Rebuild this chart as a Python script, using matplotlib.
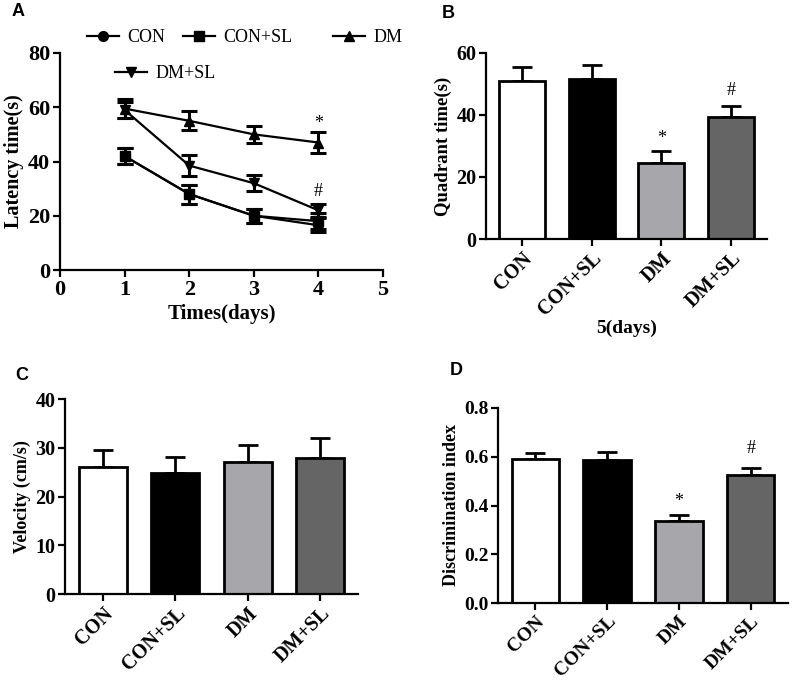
import matplotlib
matplotlib.use('Agg')
import matplotlib.pyplot as plt
from matplotlib.lines import Line2D

plt.rcParams['font.family'] = ['Liberation Serif', 'DejaVu Serif']
plt.rcParams['font.weight'] = 'bold'
plt.rcParams['axes.linewidth'] = 1.6

# ---- data ----
days = [1, 2, 3, 4]
con_lat = [42, 28, 20, 16.5]
con_lat_err = [3, 3.5, 2.5, 2.5]
consl_lat = [42, 28, 20, 18]
consl_lat_err = [3, 3.5, 2.5, 3]
dm_lat = [59.5, 55, 50, 47]
dm_lat_err = [3.5, 3.5, 3, 4]
dmsl_lat = [59, 38.5, 32, 22]
dmsl_lat_err = [3, 4, 3, 2.5]

groups = ['CON', 'CON+SL', 'DM', 'DM+SL']
bar_colors = ['white', 'black', '#a7a7ab', '#656565']

quad_time = [51, 51.5, 24.5, 39.5]
quad_err = [4.5, 4.5, 4, 3.5]
quad_marks = ['', '', '*', '#']

velocity = [26, 24.8, 27, 28]
velocity_err = [3.5, 3.4, 3.6, 4]

disc_index = [0.59, 0.585, 0.335, 0.525]
disc_err = [0.025, 0.035, 0.025, 0.03]
disc_marks = ['', '', '*', '#']

W, H = 797, 690
fig = plt.figure(figsize=(W / 100, H / 100), dpi=100)


def px_axes(left, top, right, bottom):
    return fig.add_axes([left / W, 1 - bottom / H, (right - left) / W, (bottom - top) / H])


def style(ax, fs):
    ax.spines['top'].set_visible(False)
    ax.spines['right'].set_visible(False)
    ax.tick_params(width=1.6, length=5, labelsize=fs, pad=2)
    for t in ax.get_yticklabels():
        t.set_fontweight('bold')


# ---- A ----
axA = px_axes(60, 53, 383, 270)
series = [(con_lat, con_lat_err, 'o', 'CON'),
          (consl_lat, consl_lat_err, 's', 'CON+SL'),
          (dm_lat, dm_lat_err, '^', 'DM'),
          (dmsl_lat, dmsl_lat_err, 'v', 'DM+SL')]
for vals, err, mk, name in series:
    axA.errorbar(days, vals, yerr=err, color='black', marker=mk, markersize=7,
                 lw=1.6, elinewidth=2.2, capsize=6, capthick=2.2, label=name)
axA.set_xlim(0, 5)
axA.set_ylim(0, 80)
axA.set_xticks(range(0, 6))
axA.set_yticks(range(0, 81, 20))
style(axA, 16)
for t in axA.get_xticklabels():
    t.set_fontweight('bold')
axA.set_xlabel('Times(days)', fontsize=15, fontweight='bold', labelpad=3)
axA.set_ylabel('Latency time(s)', fontsize=14.5, fontweight='bold', labelpad=3)
axA.text(4, 54, '*', ha='center', va='center', fontsize=13, fontweight='normal')
axA.text(4, 29, '#', ha='center', va='center', fontsize=13, fontweight='normal')

# legend entries placed like the original
leg_pos = [(87, 38), (183, 38), (333, 38), (115, 74)]
for (vals, err, mk, name), (lx, ly) in zip(series, leg_pos):
    h = Line2D([], [], color='black', marker=mk, markersize=7, lw=1.6)
    lg = fig.legend([h], [name], loc='center left', bbox_to_anchor=(lx / W, 1 - ly / H),
                    frameon=False, handlelength=1.75, handletextpad=0.5, borderpad=0,
                    borderaxespad=0,
                    prop={'family': 'Liberation Serif', 'weight': 'normal', 'size': 13})


def bar_panel(ax, vals, err, ylim, yticks, fs, marks=None, mark_y=None):
    x = list(range(len(groups)))
    ax.bar(x, vals, width=0.66, color=bar_colors, edgecolor='black', linewidth=2, zorder=2)
    ax.errorbar(x, vals, yerr=[[0] * len(err), err], fmt='none', ecolor='black',
                elinewidth=2, capsize=7, capthick=2, zorder=1)
    ax.set_xlim(-0.52, len(groups) - 0.48)
    ax.set_ylim(*ylim)
    ax.set_yticks(yticks)
    ax.set_xticks(x)
    ax.set_xticklabels(groups, rotation=45, ha='right', rotation_mode='anchor',
                       fontsize=13, fontweight='bold')
    style(ax, fs)
    if marks:
        for i, m in enumerate(marks):
            if m:
                ax.text(i, mark_y[i], m, ha='center', va='center', fontsize=13,
                        fontweight='normal')


# ---- B ----
axB = px_axes(486, 53, 767, 239)
bar_panel(axB, quad_time, quad_err, (0, 60), [0, 20, 40, 60], 14.5,
          quad_marks, [0, 0, 32.5, 48])
axB.set_ylabel('Quadrant time(s)', fontsize=13.5, fontweight='bold', labelpad=3)
axB.set_xlabel('5(days)', fontsize=14, fontweight='bold', labelpad=0)

# ---- C ----
axC = px_axes(65, 399, 358, 594)
bar_panel(axC, velocity, velocity_err, (0, 40), [0, 10, 20, 30, 40], 14.5)
axC.set_ylabel('Velocity (cm/s)', fontsize=13, fontweight='bold', labelpad=3)

# ---- D ----
axD = px_axes(498, 408, 788, 603)
bar_panel(axD, disc_index, disc_err, (0, 0.8), [0, 0.2, 0.4, 0.6, 0.8], 14,
          disc_marks, [0, 0, 0.415, 0.635])
axD.set_yticklabels(['0.0', '0.2', '0.4', '0.6', '0.8'], fontweight='bold')
axD.set_ylabel('Discrimination index', fontsize=13, fontweight='bold', labelpad=3)

# panel letters
for letter, (lx, ly) in zip('ABCD', [(12, 12), (442, 14), (15, 375), (450, 370)]):
    fig.text(lx / W, 1 - ly / H, letter, fontsize=13, fontweight='bold',
             family='Liberation Sans', va='center', ha='left')

fig.savefig('out.png', dpi=100)
